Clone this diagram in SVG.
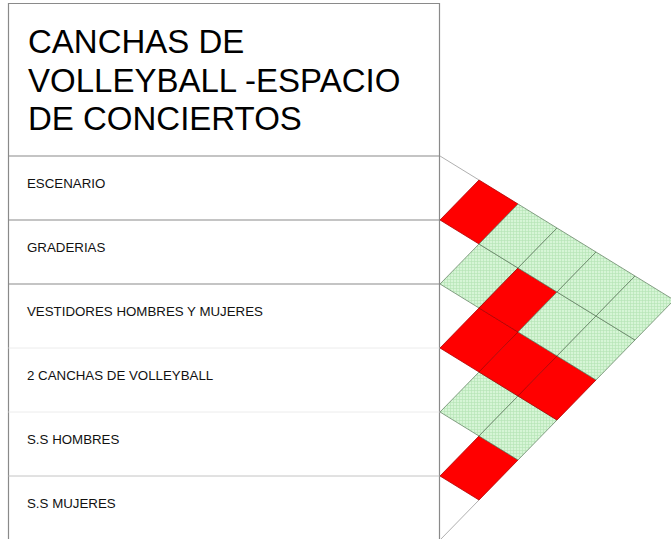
<svg xmlns="http://www.w3.org/2000/svg" width="671" height="539" viewBox="0 0 671 539">
  <defs>
    <pattern id="hatch" patternUnits="userSpaceOnUse" width="3" height="3">
      <rect width="3" height="3" fill="#d6f5d6"/>
      <path d="M0 0.5H3M0.5 0V3" stroke="#b4e2b4" stroke-width="0.6"/>
    </pattern>
  </defs>
  <style>
    .frame { fill: none; stroke: #8a8a8a; stroke-width: 1.2; }
    .sep { stroke: #8a8a8a; stroke-width: 1.2; }
    .sep-light { stroke: #c4c4c4; stroke-width: 1; }
    .sep-faint { stroke: #ececec; stroke-width: 1; }
    .title { font-family: "Liberation Sans", Arial, sans-serif; font-size: 33px; fill: #000; }
    .label { font-family: "Liberation Sans", Arial, sans-serif; font-size: 13.3px; fill: #111; }
    .red { fill: #ff0000; stroke: #b00000; stroke-width: 0.8; }
    .green { fill: url(#hatch); stroke: #5a785a; stroke-width: 0.7; }
    .edge { fill: none; stroke: #b0b0b0; stroke-width: 1; }
  </style>
  <rect width="671" height="539" fill="#ffffff"/>

  <g id="title">
    <path class="frame" d="M8.5 539V3.5H439.5V539"/>
    <text class="title" x="28" y="53">CANCHAS DE</text>
    <text class="title" x="28" y="92">VOLLEYBALL -ESPACIO</text>
    <text class="title" x="28" y="130">DE CONCIERTOS</text>
  </g>

  <g id="row-escenario">
    <line class="sep" x1="8.5" y1="156" x2="439.5" y2="156"/>
    <text class="label" x="27" y="188">ESCENARIO</text>
  </g>
  <g id="row-graderias">
    <line class="sep" x1="8.5" y1="220" x2="439.5" y2="220"/>
    <text class="label" x="27" y="252">GRADERIAS</text>
  </g>
  <g id="row-vestidores">
    <line class="sep" x1="8.5" y1="284" x2="439.5" y2="284"/>
    <text class="label" x="27" y="316">VESTIDORES HOMBRES Y MUJERES</text>
  </g>
  <g id="row-canchas">
    <line class="sep-faint" x1="8.5" y1="348" x2="439.5" y2="348"/>
    <text class="label" x="27" y="380">2 CANCHAS DE VOLLEYBALL</text>
  </g>
  <g id="row-ss-hombres">
    <line class="sep-faint" x1="8.5" y1="412" x2="439.5" y2="412"/>
    <text class="label" x="27" y="444">S.S HOMBRES</text>
  </g>
  <g id="row-ss-mujeres">
    <line class="sep-light" x1="8.5" y1="476" x2="439.5" y2="476"/>
    <text class="label" x="27" y="508">S.S MUJERES</text>
  </g>

  <g id="connectors">
    <path class="edge" d="M440 156L479 180M440 540L479 500"/>
    <polygon id="c01" class="red" points="440,220 479,180 518,204 479,244"/>
    <polygon id="c12" class="green" points="440,284 479,244 518,268 479,308"/>
    <polygon id="c23" class="red" points="440,348 479,308 518,332 479,372"/>
    <polygon id="c34" class="green" points="440,412 479,372 518,396 479,436"/>
    <polygon id="c45" class="red" points="440,476 479,436 518,460 479,500"/>
    <polygon id="c02" class="green" points="479,244 518,204 557,228 518,268"/>
    <polygon id="c13" class="red" points="479,308 518,268 557,292 518,332"/>
    <polygon id="c24" class="red" points="479,372 518,332 557,356 518,396"/>
    <polygon id="c35" class="green" points="479,436 518,396 557,420 518,460"/>
    <polygon id="c03" class="green" points="518,268 557,228 596,252 557,292"/>
    <polygon id="c14" class="green" points="518,332 557,292 596,316 557,356"/>
    <polygon id="c25" class="red" points="518,396 557,356 596,380 557,420"/>
    <polygon id="c04" class="green" points="557,292 596,252 635,276 596,316"/>
    <polygon id="c15" class="green" points="557,356 596,316 635,340 596,380"/>
    <polygon id="c05" class="green" points="596,316 635,276 674,300 635,340"/>
  </g>
</svg>
